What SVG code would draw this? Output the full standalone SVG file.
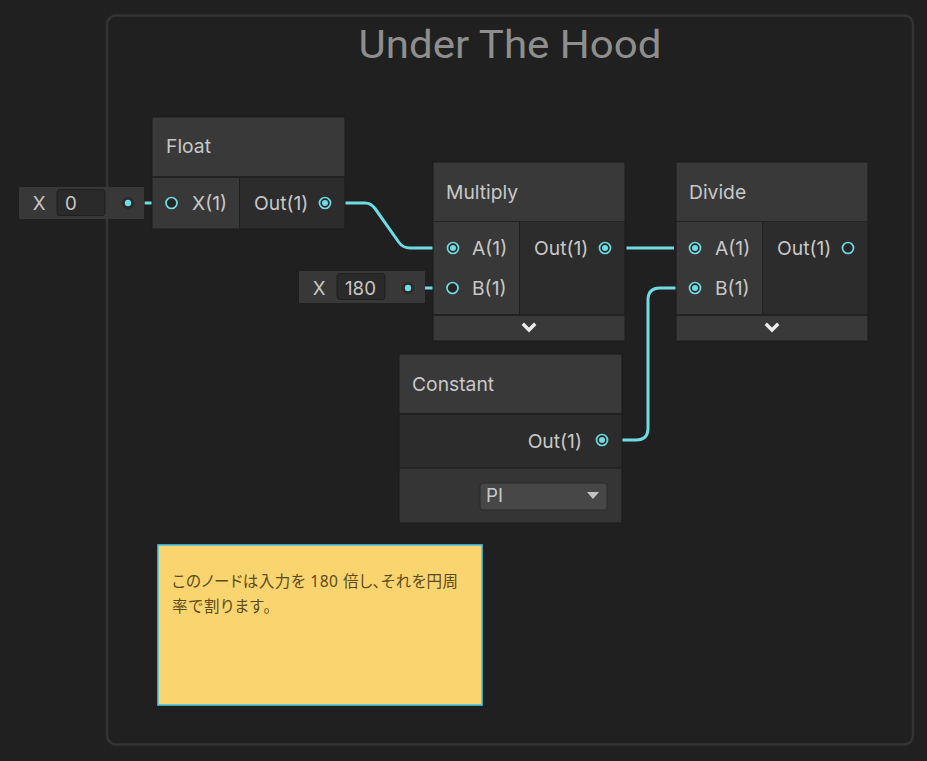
<svg xmlns="http://www.w3.org/2000/svg" width="927" height="761" viewBox="0 0 927 761">
<defs>
<style>
.t{font-family:Inter,"Noto Sans","Liberation Sans",sans-serif;font-size:19.3px;fill:#c8c8c8}
.v{font-family:Inter,"Noto Sans","Liberation Sans",sans-serif;font-size:18.7px;fill:#c8c8c8}
.hdr{fill:#393939}
.in{fill:#383838}
.out{fill:#2c2c2c}
.foot{fill:#393939}
.edge{fill:none;stroke:#1a1a1a;stroke-width:1}
.wire{fill:none;stroke:#6fdce4;stroke-width:3;stroke-linecap:butt}
.dim{fill:none;stroke:#3f5a5d;stroke-width:3}
.pc{fill:#262626;stroke:#6fdce4;stroke-width:1.7}
.pd{fill:#6fdce4}
.fld{fill:#383838}
.vbox{fill:#2a2a2a;stroke:#1f1f1f;stroke-width:1}
.chev{fill:none;stroke:#ececec;stroke-width:3.4;stroke-linecap:square}
.jp{font-family:"Noto Sans","Noto Sans CJK JP",sans-serif;font-size:15.5px;fill:#5c4a1c;font-feature-settings:"palt"}
</style>
</defs>
<rect x="0" y="0" width="927" height="761" fill="#202020"/>

<g id="group-frame">
<rect x="107" y="15.5" width="806" height="729" rx="9" fill="#202020" stroke="#343434" stroke-width="2.5"/>
<text x="510" y="58" text-anchor="middle" textLength="303" lengthAdjust="spacingAndGlyphs" style="font-family:Roboto,'Liberation Sans',sans-serif;font-size:39px;fill:#8e8e8e">Under The Hood</text>
</g>

<g id="connectors">
<line class="dim" x1="133" y1="203" x2="145" y2="203"/>
<line class="wire" x1="145" y1="203" x2="166" y2="203"/>
<line class="dim" x1="413" y1="288" x2="425" y2="288"/>
<line class="wire" x1="425" y1="288" x2="446" y2="288"/>
<line class="dim" x1="330" y1="203" x2="345" y2="203"/>
<path class="wire" d="M345,203 H365 Q371,203 375,208.5 L399,242.5 Q403,248 410,248 H433"/>
<line class="dim" x1="433" y1="248" x2="448" y2="248"/>
<line class="dim" x1="610" y1="248" x2="625" y2="248"/>
<line class="wire" x1="626.5" y1="248" x2="674" y2="248"/>
<line class="dim" x1="676" y1="248" x2="690" y2="248"/>
<line class="dim" x1="607" y1="440" x2="622" y2="440"/>
<path class="wire" d="M622,440 H636 Q648,440 648,428 V300 Q648,288 660,288 H676"/>
<line class="dim" x1="676" y1="288" x2="690" y2="288"/>
</g>

<g id="field-float-x">
<rect class="fld" x="19" y="187" width="125" height="32"/>
<text class="v" x="39" y="210" text-anchor="middle">X</text>
<rect class="vbox" x="57" y="189.5" width="48" height="26" rx="3"/>
<text class="v" x="65" y="210">0</text>
<circle cx="128" cy="203" r="6" fill="#2a2a2a"/>
<circle class="pd" cx="128" cy="203" r="3.2"/>
</g>

<g id="field-multiply-b">
<rect class="fld" x="299" y="271" width="126" height="32"/>
<text class="v" x="319" y="295" text-anchor="middle">X</text>
<rect class="vbox" x="337" y="273.5" width="48" height="26" rx="3"/>
<text class="v" x="345" y="295">180</text>
<circle cx="408" cy="288" r="6" fill="#2a2a2a"/>
<circle class="pd" cx="408" cy="288" r="3.2"/>
</g>

<g id="node-float">
<rect class="hdr" x="152" y="117" width="193" height="59"/>
<rect fill="#222" x="152" y="176" width="193" height="2"/>
<rect class="in" x="152" y="178" width="87" height="51"/>
<rect class="out" x="240" y="178" width="105" height="51"/>
<rect class="edge" x="152" y="117" width="193" height="112"/>
<text class="t" x="166" y="153">Float</text>
<circle class="pc" cx="171.5" cy="203" r="5.5"/>
<text class="t" x="192" y="210">X(1)</text>
<text class="t" x="254" y="210">Out(1)</text>
<circle class="pc" cx="325" cy="203" r="5.5"/>
<circle class="pd" cx="325" cy="203" r="3"/>
</g>

<g id="node-multiply">
<rect class="hdr" x="433" y="162" width="192" height="59"/>
<rect fill="#222" x="433" y="221" width="192" height="1"/>
<rect class="in" x="433" y="222" width="86" height="92"/>
<rect class="out" x="520" y="222" width="105" height="92"/>
<rect fill="#222" x="433" y="314" width="192" height="2"/>
<rect class="foot" x="433" y="316" width="192" height="25"/>
<rect class="edge" x="433" y="162" width="192" height="179"/>
<text class="t" x="446" y="199">Multiply</text>
<circle class="pc" cx="453" cy="248" r="5.5"/>
<circle class="pd" cx="453" cy="248" r="3"/>
<text class="t" x="472" y="255">A(1)</text>
<circle class="pc" cx="452.5" cy="288" r="5.5"/>
<text class="t" x="472" y="295">B(1)</text>
<text class="t" x="534" y="255">Out(1)</text>
<circle class="pc" cx="605" cy="248" r="5.5"/>
<circle class="pd" cx="605" cy="248" r="3"/>
<polyline class="chev" points="524,325 529,330 534,325"/>
</g>

<g id="node-divide">
<rect class="hdr" x="676" y="162" width="192" height="59"/>
<rect fill="#222" x="676" y="221" width="192" height="1"/>
<rect class="in" x="676" y="222" width="86" height="92"/>
<rect class="out" x="763" y="222" width="105" height="92"/>
<rect fill="#222" x="676" y="314" width="192" height="2"/>
<rect class="foot" x="676" y="316" width="192" height="25"/>
<rect class="edge" x="676" y="162" width="192" height="179"/>
<text class="t" x="689" y="199">Divide</text>
<circle class="pc" cx="695" cy="248" r="5.5"/>
<circle class="pd" cx="695" cy="248" r="3"/>
<text class="t" x="715" y="255">A(1)</text>
<circle class="pc" cx="695" cy="288" r="5.5"/>
<circle class="pd" cx="695" cy="288" r="3"/>
<text class="t" x="715" y="295">B(1)</text>
<text class="t" x="777" y="255">Out(1)</text>
<circle class="pc" cx="848" cy="248" r="5.5"/>
<polyline class="chev" points="767,325 772,330 777,325"/>
</g>

<g id="node-constant">
<rect class="hdr" x="399" y="354" width="223" height="59"/>
<rect fill="#222" x="399" y="413" width="223" height="2"/>
<rect class="out" x="399" y="415" width="223" height="52"/>
<rect fill="#262626" x="399" y="467" width="223" height="2"/>
<rect fill="#353535" x="399" y="469" width="223" height="54"/>
<rect class="edge" x="399" y="354" width="223" height="169"/>
<text class="t" x="412" y="391">Constant</text>
<text class="t" x="582" y="448" text-anchor="end">Out(1)</text>
<circle class="pc" cx="602" cy="440" r="5.5"/>
<circle class="pd" cx="602" cy="440" r="3"/>
<rect x="480" y="483" width="127" height="27" rx="3" fill="#474747" stroke="#2b2b2b" stroke-width="1"/>
<text class="v" x="486" y="502">PI</text>
<polygon points="587,492 599,492 593,499" fill="#c4c4c4"/>
</g>

<g id="sticky-note">
<rect x="158" y="545" width="324" height="160" fill="#fad56f" stroke="#4cc4e0" stroke-width="1.6"/>
<text class="jp" x="172" y="587" textLength="286" lengthAdjust="spacing">このノードは入力を 180 倍し、それを円周</text>
<text class="jp" x="172" y="612" textLength="99" lengthAdjust="spacing">率で割ります。</text>
</g>
</svg>
